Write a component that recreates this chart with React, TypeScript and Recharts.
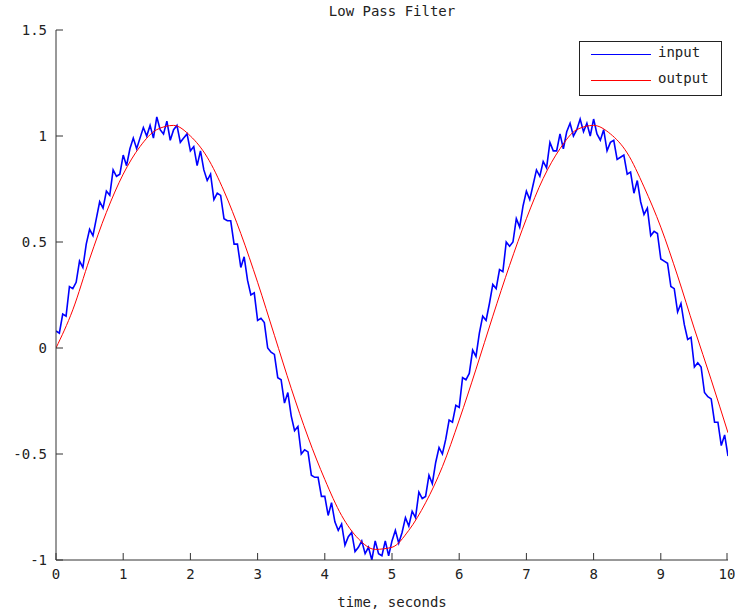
import React from 'react';
import { LineChart, Line, XAxis, YAxis } from 'recharts';

// input signal (noisy), sampled every 0.05 s
const inputTime = [
  0, 0.05, 0.1, 0.15, 0.2, 0.25, 0.3, 0.35, 0.4, 0.45,
  0.5, 0.55, 0.6, 0.65, 0.7, 0.75, 0.8, 0.85, 0.9, 0.95,
  1, 1.05, 1.1, 1.15, 1.2, 1.25, 1.3, 1.35, 1.4, 1.45,
  1.5, 1.55, 1.6, 1.65, 1.7, 1.75, 1.8, 1.85, 1.9, 1.95,
  2, 2.05, 2.1, 2.15, 2.2, 2.25, 2.3, 2.35, 2.4, 2.45,
  2.5, 2.55, 2.6, 2.65, 2.7, 2.75, 2.8, 2.85, 2.9, 2.95,
  3, 3.05, 3.1, 3.15, 3.2, 3.25, 3.3, 3.35, 3.4, 3.45,
  3.5, 3.55, 3.6, 3.65, 3.7, 3.75, 3.8, 3.85, 3.9, 3.95,
  4, 4.05, 4.1, 4.15, 4.2, 4.25, 4.3, 4.35, 4.4, 4.45,
  4.5, 4.55, 4.6, 4.65, 4.7, 4.75, 4.8, 4.85, 4.9, 4.95,
  5, 5.05, 5.1, 5.15, 5.2, 5.25, 5.3, 5.35, 5.4, 5.45,
  5.5, 5.55, 5.6, 5.65, 5.7, 5.75, 5.8, 5.85, 5.9, 5.95,
  6, 6.05, 6.1, 6.15, 6.2, 6.25, 6.3, 6.35, 6.4, 6.45,
  6.5, 6.55, 6.6, 6.65, 6.7, 6.75, 6.8, 6.85, 6.9, 6.95,
  7, 7.05, 7.1, 7.15, 7.2, 7.25, 7.3, 7.35, 7.4, 7.45,
  7.5, 7.55, 7.6, 7.65, 7.7, 7.75, 7.8, 7.85, 7.9, 7.95,
  8, 8.05, 8.1, 8.15, 8.2, 8.25, 8.3, 8.35, 8.4, 8.45,
  8.5, 8.55, 8.6, 8.65, 8.7, 8.75, 8.8, 8.85, 8.9, 8.95,
  9, 9.05, 9.1, 9.15, 9.2, 9.25, 9.3, 9.35, 9.4, 9.45,
  9.5, 9.55, 9.6, 9.65, 9.7, 9.75, 9.8, 9.85, 9.9, 9.95, 10,
];
const inputValues = [
  0.08, 0.07, 0.16, 0.15, 0.29, 0.28, 0.31, 0.41, 0.38, 0.49,
  0.56, 0.53, 0.61, 0.69, 0.66, 0.74, 0.72, 0.84, 0.81, 0.82,
  0.91, 0.86, 0.94, 0.99, 0.94, 0.99, 1.04, 1.0, 1.05, 0.99,
  1.09, 1.03, 1.01, 1.07, 0.98, 1.03, 1.05, 0.97, 0.99, 1.01,
  0.93, 0.95, 0.86, 0.93, 0.84, 0.79, 0.82, 0.7, 0.73, 0.72,
  0.61, 0.6, 0.6, 0.49, 0.49, 0.38, 0.43, 0.32, 0.25, 0.26,
  0.13, 0.14, 0.12, 0.0, -0.02, -0.03, -0.14, -0.15, -0.26, -0.21,
  -0.32, -0.39, -0.37, -0.5, -0.48, -0.49, -0.6, -0.61, -0.61, -0.7,
  -0.7, -0.79, -0.73, -0.82, -0.86, -0.83, -0.93, -0.89, -0.87, -0.96,
  -0.94, -0.91, -0.97, -0.94, -1.0, -0.91, -0.97, -0.98, -0.91, -0.98,
  -0.91, -0.86, -0.92, -0.87, -0.8, -0.84, -0.77, -0.8, -0.68, -0.71,
  -0.7, -0.6, -0.64, -0.54, -0.47, -0.5, -0.43, -0.34, -0.35, -0.27,
  -0.28, -0.14, -0.15, -0.12, -0.01, -0.04, 0.07, 0.15, 0.13, 0.21,
  0.3, 0.28, 0.37, 0.36, 0.5, 0.48, 0.5, 0.61, 0.57, 0.67,
  0.74, 0.7, 0.77, 0.84, 0.81, 0.88, 0.85, 0.97, 0.93, 0.93,
  1.01, 0.94, 1.02, 1.06, 1.0, 1.03, 1.08, 1.02, 1.06, 1.0,
  1.08, 1.01, 0.98, 1.03, 0.93, 0.97, 0.98, 0.89, 0.9, 0.91,
  0.82, 0.83, 0.73, 0.79, 0.69, 0.63, 0.66, 0.53, 0.55, 0.54,
  0.42, 0.41, 0.4, 0.29, 0.28, 0.17, 0.21, 0.11, 0.04, 0.05,
  -0.09, -0.07, -0.09, -0.21, -0.23, -0.24, -0.35, -0.35, -0.46, -0.41, -0.51,
];

// filtered output, every 0.25 s
const outputTime = [
  0, 0.25, 0.5, 0.75, 1, 1.25, 1.5, 1.75, 2, 2.25,
  2.5, 2.75, 3, 3.25, 3.5, 3.75, 4, 4.25, 4.5, 4.75,
  5, 5.25, 5.5, 5.75, 6, 6.25, 6.5, 6.75, 7, 7.25,
  7.5, 7.75, 8, 8.25, 8.5, 8.75, 9, 9.25, 9.5, 9.75, 10,
];
const outputValues = [
  0, 0.18, 0.42, 0.64, 0.82, 0.95, 1.03, 1.05, 1.0, 0.9,
  0.74, 0.54, 0.31, 0.06, -0.19, -0.42, -0.62, -0.79, -0.9, -0.95,
  -0.94, -0.86, -0.73, -0.56, -0.34, -0.1, 0.15, 0.39, 0.61, 0.8,
  0.94, 1.03, 1.05, 1.01, 0.92, 0.76, 0.57, 0.34, 0.09, -0.15, -0.4,
];

const xTicks = [0, 1, 2, 3, 4, 5, 6, 7, 8, 9, 10];
const yTicks = [-1, -0.5, 0, 0.5, 1, 1.5];

const inputData = inputTime.map((t, i) => ({ t, v: inputValues[i] }));
const outputData = outputTime.map((t, i) => ({ t, v: outputValues[i] }));

const FONT = '"DejaVu Sans Mono", monospace';
const AXIS = '#333';

const XTick = (props: any) => {
  const { x, y, payload } = props;
  return (
    <g>
      <line x1={x} x2={x} y1={y} y2={y - 7} stroke={AXIS} />
      <text x={x} y={y + 19} textAnchor="middle" fontFamily={FONT} fontSize={14} fill="#222">
        {payload.value}
      </text>
    </g>
  );
};

const YTick = (props: any) => {
  const { x, y, payload } = props;
  return (
    <g>
      <line x1={x} x2={x + 7} y1={y} y2={y} stroke={AXIS} />
      <text x={x - 9} y={y + 5} textAnchor="end" fontFamily={FONT} fontSize={14} fill="#222">
        {payload.value}
      </text>
    </g>
  );
};

export default function App() {
  return (
    <div style={{ position: 'absolute', left: 0, top: 0, width: 735, height: 615, background: '#fff' }}>
      <div
        style={{
          position: 'absolute', left: 56, width: 672, top: 3, textAlign: 'center',
          fontFamily: FONT, fontSize: 14, color: '#222',
        }}
      >
        Low Pass Filter
      </div>
      <LineChart width={735} height={615} margin={{ top: 30, right: 7, left: 16, bottom: 10 }}>
        <XAxis
          dataKey="t"
          type="number"
          domain={[0, 10]}
          ticks={xTicks}
          allowDataOverflow
          height={45}
          stroke={AXIS}
          tickSize={0}
          tickMargin={0}
          tickLine={false}
          tick={<XTick />}
          label={{ value: 'time, seconds', position: 'insideBottom', offset: -2, fontFamily: FONT, fontSize: 14, fill: '#222' }}
        />
        <YAxis
          type="number"
          domain={[-1, 1.5]}
          ticks={yTicks}
          allowDataOverflow
          width={40}
          stroke={AXIS}
          tickSize={0}
          tickMargin={0}
          tickLine={false}
          tick={<YTick />}
        />
        <Line data={inputData} dataKey="v" type="linear" stroke="#0000ff" strokeWidth={1.6} dot={false} isAnimationActive={false} />
        <Line data={outputData} dataKey="v" type="monotone" stroke="#ff0000" strokeWidth={1} dot={false} isAnimationActive={false} />
      </LineChart>
      <div
        style={{
          position: 'absolute', left: 579, top: 41, width: 141, height: 53,
          border: '1px solid #222', background: '#fff', fontFamily: FONT, fontSize: 14, color: '#222',
        }}
      >
        <div style={{ position: 'absolute', left: 11, top: 12, width: 60, height: 0, borderTop: '1.5px solid #0000ff' }} />
        <div style={{ position: 'absolute', left: 78, top: 2 }}>input</div>
        <div style={{ position: 'absolute', left: 11, top: 38, width: 60, height: 0, borderTop: '1.5px solid #ff0000' }} />
        <div style={{ position: 'absolute', left: 78, top: 28 }}>output</div>
      </div>
    </div>
  );
}
